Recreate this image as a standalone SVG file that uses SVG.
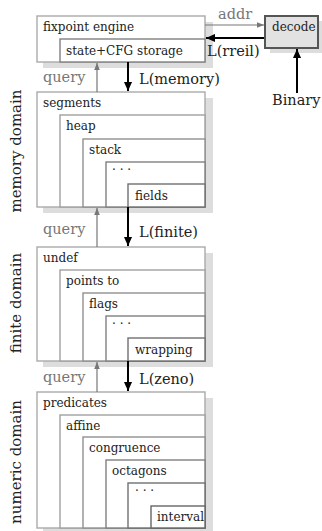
<svg xmlns="http://www.w3.org/2000/svg" width="322" height="531" viewBox="0 0 322 531">
  <style>
    text { font-family: "DejaVu Serif", "Liberation Serif", serif; fill: #222; }
    .box { font-size: 12px; }
    .lbl { font-size: 14.5px; }
    .side { font-size: 15px; }
    .gray { fill: #777; }
    .shadow { fill: #ddd; stroke: none; }
    .b0 { fill: #fff; stroke: #aaa; stroke-width: 1.4; }
    .b1 { fill: #fff; stroke: #a0a0a0; stroke-width: 1.4; }
    .b2 { fill: #fff; stroke: #909090; stroke-width: 1.4; }
    .b3 { fill: #fff; stroke: #808080; stroke-width: 1.4; }
    .b4 { fill: #fff; stroke: #707070; stroke-width: 1.4; }
    .b5 { fill: #fff; stroke: #666; stroke-width: 1.4; }
    .qry { stroke: #777; stroke-width: 1.2; fill: none; }
    .lift { stroke: #000; stroke-width: 2; fill: none; }
  </style>
  <defs>
    <marker id="grayhead" viewBox="0 0 10 10" refX="10" refY="5" markerWidth="7" markerHeight="7" markerUnits="userSpaceOnUse" orient="auto">
      <path d="M0,1 L10,5 L0,9 z" fill="#777"/>
    </marker>
    <marker id="blackhead" viewBox="0 0 10 10" refX="10" refY="5" markerWidth="9" markerHeight="9" markerUnits="userSpaceOnUse" orient="auto">
      <path d="M0,0.5 L10,5 L0,9.5 z" fill="#000"/>
    </marker>
  </defs>

  <!-- fixpoint engine with its storage -->
  <g id="fixpoint">
    <rect class="shadow" x="43" y="22" width="170" height="46"/>
    <rect class="b0" x="37" y="16" width="168" height="46"/>
    <text class="box" x="43" y="31">fixpoint engine</text>
    <rect class="b3" x="60" y="39" width="145" height="23"/>
    <text class="box" x="66" y="55">state+CFG storage</text>
  </g>

  <!-- decoder -->
  <g id="decode">
    <rect class="shadow" x="270" y="21" width="53" height="32"/>
    <rect x="265" y="16" width="53" height="32" fill="#e2e2e2" stroke="#555" stroke-width="2"/>
    <text class="box" x="272" y="31">decode</text>
  </g>

  <!-- memory domain stack -->
  <g id="memory-domain">
    <rect class="shadow" x="43" y="98" width="170" height="115"/>
    <rect class="b0" x="37" y="92" width="168" height="115"/>
    <text class="box" x="43" y="107">segments</text>
    <rect class="b1" x="60" y="115" width="145" height="92"/>
    <text class="box" x="66" y="130">heap</text>
    <rect class="b2" x="83" y="139" width="122" height="68"/>
    <text class="box" x="89" y="154">stack</text>
    <rect class="b3" x="106" y="162" width="99" height="45"/>
    <text class="box" x="112" y="174">· · ·</text>
    <rect class="b4" x="128" y="184" width="77" height="23"/>
    <text class="box" x="135" y="200">fields</text>
  </g>

  <!-- finite domain stack -->
  <g id="finite-domain">
    <rect class="shadow" x="43" y="253" width="170" height="114"/>
    <rect class="b0" x="37" y="247" width="168" height="114"/>
    <text class="box" x="43" y="262">undef</text>
    <rect class="b1" x="60" y="270" width="145" height="91"/>
    <text class="box" x="66" y="285">points to</text>
    <rect class="b2" x="83" y="293" width="122" height="68"/>
    <text class="box" x="89" y="308">flags</text>
    <rect class="b3" x="106" y="316" width="99" height="45"/>
    <text class="box" x="112" y="328">· · ·</text>
    <rect class="b4" x="128" y="338" width="77" height="23"/>
    <text class="box" x="135" y="354">wrapping</text>
  </g>

  <!-- numeric domain stack -->
  <g id="numeric-domain">
    <rect class="shadow" x="43" y="398" width="170" height="136"/>
    <rect class="b0" x="37" y="392" width="168" height="136"/>
    <text class="box" x="43" y="407">predicates</text>
    <rect class="b1" x="60" y="415" width="145" height="113"/>
    <text class="box" x="66" y="430">affine</text>
    <rect class="b2" x="83" y="437" width="122" height="91"/>
    <text class="box" x="89" y="452">congruence</text>
    <rect class="b3" x="106" y="460" width="99" height="68"/>
    <text class="box" x="112" y="475">octagons</text>
    <rect class="b4" x="128" y="483" width="77" height="45"/>
    <text class="box" x="135" y="495">· · ·</text>
    <rect class="b5" x="151" y="506" width="54" height="22"/>
    <text class="box" x="157" y="521">interval</text>
  </g>

  <!-- side labels -->
  <g id="side-labels">
    <text class="side" transform="translate(21,151) rotate(-90)" text-anchor="middle">memory domain</text>
    <text class="side" transform="translate(21,303) rotate(-90)" text-anchor="middle">finite domain</text>
    <text class="side" transform="translate(21,462) rotate(-90)" text-anchor="middle">numeric domain</text>
  </g>

  <!-- connectors -->
  <g id="connectors">
    <line class="qry" x1="205" y1="25" x2="264" y2="25" marker-end="url(#grayhead)"/>
    <line class="lift" x1="264" y1="38" x2="206" y2="38" marker-end="url(#blackhead)"/>
    <line class="lift" x1="297" y1="93" x2="297" y2="49" marker-end="url(#blackhead)"/>

    <line class="qry" x1="97" y1="92" x2="97" y2="63" marker-end="url(#grayhead)"/>
    <line class="lift" x1="128" y1="62" x2="128" y2="91" marker-end="url(#blackhead)"/>

    <line class="qry" x1="97" y1="247" x2="97" y2="208" marker-end="url(#grayhead)"/>
    <line class="lift" x1="128" y1="207" x2="128" y2="246" marker-end="url(#blackhead)"/>

    <line class="qry" x1="97" y1="392" x2="97" y2="362" marker-end="url(#grayhead)"/>
    <line class="lift" x1="128" y1="361" x2="128" y2="391" marker-end="url(#blackhead)"/>

    <text class="lbl gray" x="218" y="19">addr</text>
    <text class="lbl" x="207" y="56">L(rreil)</text>
    <text class="lbl" x="272" y="105">Binary</text>
    <text class="lbl gray" x="43" y="82">query</text>
    <text class="lbl" x="139" y="84">L(memory)</text>
    <text class="lbl gray" x="43" y="234">query</text>
    <text class="lbl" x="139" y="237">L(finite)</text>
    <text class="lbl gray" x="43" y="382">query</text>
    <text class="lbl" x="139" y="384">L(zeno)</text>
  </g>
</svg>
